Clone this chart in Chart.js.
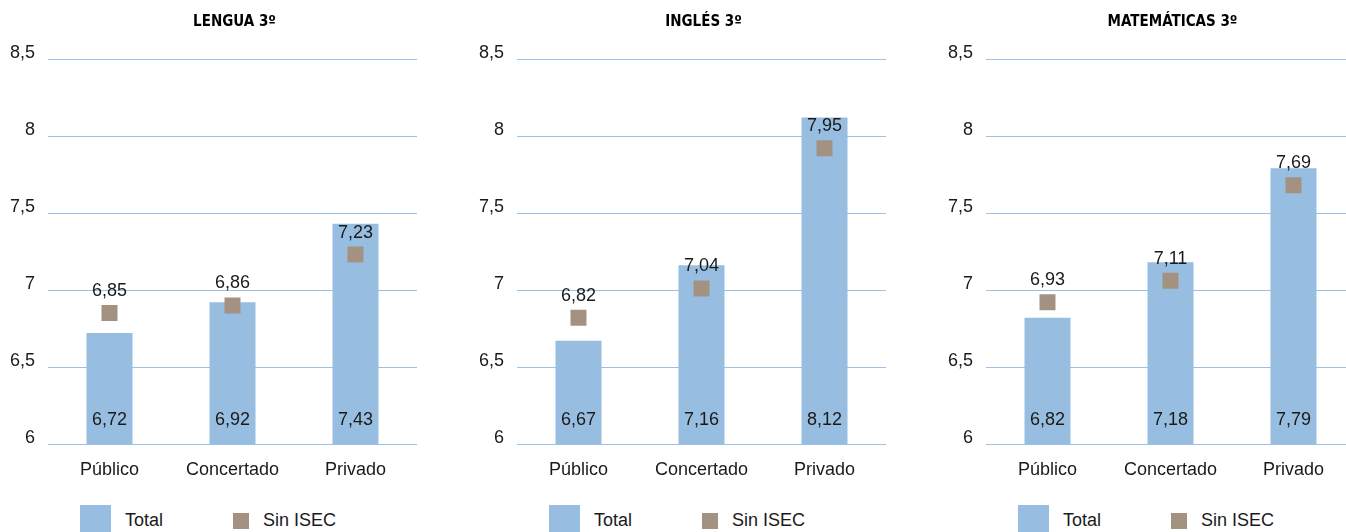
<!DOCTYPE html>
<html>
<head>
<meta charset="utf-8">
<script src="https://cdn.jsdelivr.net/npm/chart.js@4/dist/chart.umd.min.js"></script>
<style>
  html, body { margin: 0; padding: 0; background: #fff; overflow: hidden; }
  #row { position: relative; width: 1407px; height: 532px; display: flex; }
  .panel { position: relative; width: 469px; height: 532px; overflow: hidden; }
  .panel canvas { position: absolute; left: 0; top: 0; }
  .lg { position: absolute; display: flex; align-items: center; height: 31px; top: 505px;
        font-family: 'Liberation Sans', Arial, sans-serif;
        font-size: 18px; color: #1a1a1a; }
  .lg span.box { display: inline-block; }
</style>
</head>
<body>
<div id="row"></div>
<script>
// ---- data ----
const categories = ['Público', 'Concertado', 'Privado'];
const titles = ['LENGUA 3º', 'INGLÉS 3º', 'MATEMÁTICAS 3º'];
const seriesNames = ['Total', 'Sin ISEC'];

const lenguaTotal = [6.72, 6.92, 7.43];
const lenguaSinIsec = [6.85, 6.90, 7.23];        // marker positions
const lenguaSinIsecLabels = [6.85, 6.86, 7.23];  // printed labels

const inglesTotal = [6.67, 7.16, 8.12];
const inglesSinIsec = [6.82, 7.01, 7.92];
const inglesSinIsecLabels = [6.82, 7.04, 7.95];

const matesTotal = [6.82, 7.18, 7.79];
const matesSinIsec = [6.92, 7.06, 7.68];
const matesSinIsecLabels = [6.93, 7.11, 7.69];

const yMin = 6, yMax = 8.5, yStep = 0.5;

// ---- styles ----
const FONT = "'Liberation Sans', Arial, sans-serif";
const TITLE_FONT = "'DejaVu Sans Condensed', 'Liberation Sans', sans-serif";
const BAR_COLOR = '#97bee0';
const MARK_COLOR = '#a39282';
const GRID_COLOR = '#9bc2e6';
const TEXT_COLOR = '#1a1a1a';

const fmt = v => v.toFixed(2).replace('.', ',');

const panels = [
  { title: titles[0], total: lenguaTotal, sin: lenguaSinIsec, sinLabels: lenguaSinIsecLabels },
  { title: titles[1], total: inglesTotal, sin: inglesSinIsec, sinLabels: inglesSinIsecLabels },
  { title: titles[2], total: matesTotal, sin: matesSinIsec, sinLabels: matesSinIsecLabels }
];

const labelPlugin = {
  id: 'valueLabels',
  afterDatasetsDraw(chart, args, opts) {
    const ctx = chart.ctx;
    ctx.save();
    ctx.font = '18px ' + FONT;
    ctx.fillStyle = TEXT_COLOR;
    ctx.textAlign = 'center';
    ctx.textBaseline = 'middle';
    const axisBase = chart.scales.y.getPixelForValue(yMin);
    const bars = chart.getDatasetMeta(0).data;
    bars.forEach((bar, i) => {
      ctx.fillText(fmt(chart.data.datasets[0].data[i]), bar.x, axisBase - 24);
    });
    const pts = chart.getDatasetMeta(1).data;
    pts.forEach((p, i) => {
      ctx.fillText(fmt(opts.sinLabels[i]), p.x, p.y - 22);
    });
    ctx.restore();
  }
};

const row = document.getElementById('row');
panels.forEach(p => {
  const panel = document.createElement('div');
  panel.className = 'panel';
  const canvas = document.createElement('canvas');
  canvas.width = 469; canvas.height = 500;
  canvas.style.width = '469px'; canvas.style.height = '500px';
  panel.appendChild(canvas);

  // legend (HTML)
  const lg1 = document.createElement('div');
  lg1.className = 'lg'; lg1.style.left = '80px';
  lg1.innerHTML = '<span class="box" style="width:31px;height:31px;background:' + BAR_COLOR + '"></span>' +
                  '<span style="margin-left:14px">' + seriesNames[0] + '</span>';
  const lg2 = document.createElement('div');
  lg2.className = 'lg'; lg2.style.left = '233px';
  lg2.innerHTML = '<span class="box" style="width:16px;height:16px;background:' + MARK_COLOR + '"></span>' +
                  '<span style="margin-left:14px">' + seriesNames[1] + '</span>';
  panel.appendChild(lg1); panel.appendChild(lg2);
  row.appendChild(panel);

  new Chart(canvas, {
    type: 'bar',
    data: {
      labels: categories,
      datasets: [
        { type: 'bar', label: seriesNames[0], data: p.total, backgroundColor: BAR_COLOR,
          borderWidth: 0, barPercentage: 0.374, categoryPercentage: 1, order: 2 },
        { type: 'line', label: seriesNames[1], data: p.sin, showLine: false,
          pointStyle: 'rect', pointRadius: 11.3, pointHoverRadius: 11.3, pointBorderWidth: 0,
          backgroundColor: MARK_COLOR, borderColor: MARK_COLOR, order: 1 }
      ]
    },
    options: {
      responsive: false,
      animation: false,
      events: [],
      layout: { padding: 0 },
      plugins: {
        legend: { display: false },
        tooltip: { enabled: false },
        title: {
          display: true, text: p.title, color: '#000',
          font: { family: TITLE_FONT, size: 15, weight: 'bold' },
          padding: { top: 13, bottom: 28 }
        },
        valueLabels: { sinLabels: p.sinLabels }
      },
      scales: {
        x: {
          grid: { display: false, drawTicks: false },
          border: { display: false },
          ticks: { color: TEXT_COLOR, font: { family: FONT, size: 18 }, padding: 15 },
          afterFit(s) { s.height = 56; }
        },
        y: {
          min: yMin, max: yMax,
          ticks: { stepSize: yStep, padding: 13, labelOffset: -6, color: TEXT_COLOR,
                   font: { family: FONT, size: 18 },
                   callback: v => String(v).replace('.', ',') },
          grid: { color: GRID_COLOR, lineWidth: 1, drawTicks: false },
          border: { display: false },
          afterFit(s) { s.width = 48; }
        },
        y2: {
          position: 'right', display: true,
          grid: { display: false, drawTicks: false },
          border: { display: false },
          ticks: { display: false },
          afterFit(s) { s.width = 52; }
        }
      }
    },
    plugins: [labelPlugin]
  });
});
</script>
</body>
</html>
